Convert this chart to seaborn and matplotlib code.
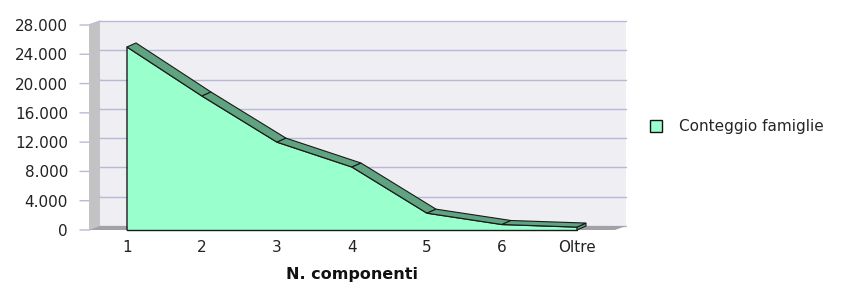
import numpy as np
import pandas as pd
import seaborn as sns
import matplotlib
matplotlib.use("Agg")
import matplotlib.pyplot as plt
from matplotlib.patches import Polygon, Patch
from matplotlib.transforms import ScaledTranslation

# ---- data ----
categories = ["1", "2", "3", "4", "5", "6", "Oltre"]
counts = [25000, 18300, 12000, 8600, 2300, 750, 400]
y_ticks = [0, 4000, 8000, 12000, 16000, 20000, 24000, 28000]
y_tick_labels = ["0", "4.000", "8.000", "12.000", "16.000", "20.000", "24.000", "28.000"]
series_name = "Conteggio famiglie"
x_title = "N. componenti"

df = pd.DataFrame({"pos": np.arange(1, len(categories) + 1), "count": counts})

sns.set_style("white")
plt.rcParams["font.family"] = ["DejaVu Sans"]

W, H = 848, 286
fig = plt.figure(figsize=(W / 100, H / 100), dpi=100)
# axes = back wall plane (pixels: x 100..626, y 21..226)
ax = fig.add_axes([100 / W, 1 - 226 / H, 526 / W, 205 / H])
px_x = 75.0                      # pixels per category
px_y = 205.0 / 28000             # pixels per unit
x0 = 1 - 36 / px_x
x1 = 1 + 490 / px_x
ax.set_xlim(x0, x1)
ax.set_ylim(0, 28000)
ax.set_facecolor("#EEEEF3")
for s in ax.spines.values():
    s.set_visible(False)

dx = 9 / px_x     # depth offset in data units (x)
dy = 4 / px_y     # depth offset in data units (y)
wall_dx = 11 / px_x

# gridlines on back wall
for v in y_ticks:
    ax.plot([x0, x1], [v, v], color="#B9B9D6", lw=1.0, zorder=1, clip_on=False)
    # tick connectors from the front
    ax.plot([x0 - 20 / px_x, x0 - wall_dx, x0], [v - dy, v - dy, v],
            color="#B9B9D6", lw=1.0, zorder=1, clip_on=False)

# left side wall
ax.add_patch(Polygon([(x0 - wall_dx, -dy), (x0, 0), (x0, 28000), (x0 - wall_dx, 28000 - dy)],
                     closed=True, facecolor="#C3C3C6", edgecolor="none", zorder=2, clip_on=False))
# floor
ax.add_patch(Polygon([(x0 - wall_dx, -dy), (x0, 0), (x1, 0), (x1 - wall_dx, -dy)],
                     closed=True, facecolor="#A2A2A6", edgecolor="none", zorder=2, clip_on=False))

# front face of area
xs = df["pos"].to_numpy(dtype=float)
ys = df["count"].to_numpy(dtype=float)
ax.fill_between(xs - dx, -dy, ys - dy, color="#99FFCC", zorder=4, clip_on=False, lw=0)
outline = pd.DataFrame({
    "x": np.concatenate([[xs[0] - dx], xs - dx, [xs[-1] - dx]]),
    "y": np.concatenate([[-dy], ys - dy, [-dy]]),
})
sns.lineplot(data=outline, x="x", y="y", sort=False, estimator=None, color="#1a1a1a",
             lw=1.0, ax=ax, zorder=5, clip_on=False, legend=False)
ax.plot([xs[0] - dx, xs[-1] - dx], [-dy, -dy], color="#1a1a1a", lw=1.0, zorder=5, clip_on=False)

# top band (3D depth)
for i in range(len(xs) - 1):
    poly = [(xs[i] - dx, ys[i] - dy), (xs[i + 1] - dx, ys[i + 1] - dy),
            (xs[i + 1], ys[i + 1]), (xs[i], ys[i])]
    ax.add_patch(Polygon(poly, closed=True, facecolor="#5FA381", edgecolor="#1a1a1a",
                         lw=0.8, zorder=6, clip_on=False))
# end cap at the right
ax.add_patch(Polygon([(xs[-1] - dx, -dy), (xs[-1] - dx, ys[-1] - dy), (xs[-1], ys[-1]), (xs[-1], 0)],
                     closed=True, facecolor="#5FA381", edgecolor="#1a1a1a", lw=0.8,
                     zorder=3, clip_on=False))

# ticks
ax.set_yticks(y_ticks)
ax.set_yticklabels(y_tick_labels)
ax.set_xticks(xs)
ax.set_xticklabels(categories)
ax.tick_params(axis="y", length=0, pad=23, labelsize=11, labelcolor="#222222")
ax.tick_params(axis="x", length=0, pad=10, labelsize=11, labelcolor="#222222")
for lab in ax.get_yticklabels():
    lab.set_transform(lab.get_transform() + ScaledTranslation(0, -4 / 100, fig.dpi_scale_trans))
for lab in ax.get_xticklabels():
    lab.set_transform(lab.get_transform() + ScaledTranslation(-9 / 100, 0, fig.dpi_scale_trans))

ax.set_ylabel("")
ax.set_xlabel(x_title, fontsize=11.5, fontweight="bold", color="#111111", va="center")
ax.xaxis.set_label_coords((352 - 100) / 526, -(275 - 226) / 205)

# legend
handles = [Patch(facecolor="#99FFCC", edgecolor="#111111", lw=1.0, label=series_name)]
fig.legend(handles=handles, loc="center left", bbox_to_anchor=(650 / W, 1 - 127 / H),
           frameon=False, fontsize=11, handlelength=0.8, handleheight=0.8,
           handletextpad=1.1, borderaxespad=0, borderpad=0)

fig.savefig("out.png", dpi=100)
